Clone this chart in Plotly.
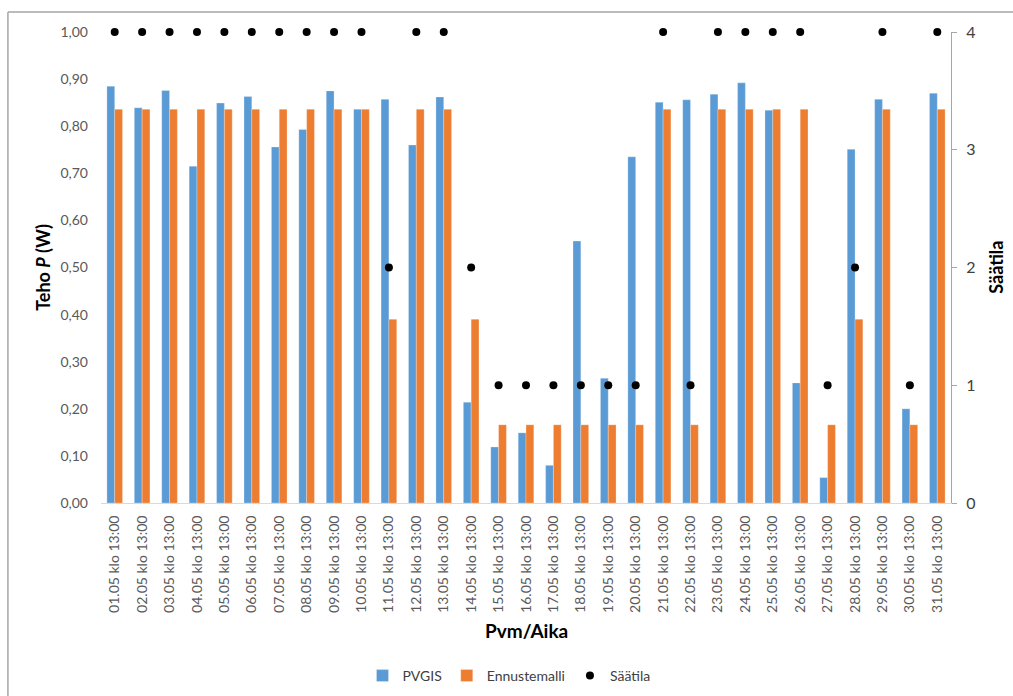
import plotly.graph_objects as go

# Päivämäärät (toukokuu, klo 13:00)
paivat = [f"{d:02d}.05 klo 13:00" for d in range(1, 32)]

# PVGIS-teho (W)
pvgis = [0.885, 0.839, 0.876, 0.715, 0.849, 0.863, 0.756, 0.793, 0.875, 0.836,
         0.857, 0.760, 0.862, 0.214, 0.119, 0.149, 0.080, 0.556, 0.265, 0.735,
         0.851, 0.856, 0.868, 0.892, 0.834, 0.255, 0.054, 0.751, 0.857, 0.200,
         0.870]

# Ennustemallin teho (W)
ennuste = [0.836, 0.836, 0.836, 0.836, 0.836, 0.836, 0.836, 0.836, 0.836, 0.836,
           0.390, 0.836, 0.836, 0.390, 0.166, 0.166, 0.166, 0.166, 0.166, 0.166,
           0.836, 0.166, 0.836, 0.836, 0.836, 0.836, 0.166, 0.390, 0.836, 0.166,
           0.836]

# Säätila (1-4)
saatila = [4, 4, 4, 4, 4, 4, 4, 4, 4, 4,
           2, 4, 4, 2, 1, 1, 1, 1, 1, 1,
           4, 1, 4, 4, 4, 4, 1, 2, 4, 1,
           4]

FONT = "Lato, 'Open Sans', sans-serif"
BLUE = "#5B9BD5"
ORANGE = "#ED7D31"

fig = go.Figure()
fig.add_trace(go.Bar(x=paivat, y=pvgis, name="PVGIS", marker_color=BLUE,
                     marker_line=dict(color="rgba(255,255,255,0.5)", width=0.5)))
fig.add_trace(go.Bar(x=paivat, y=ennuste, name="Ennustemalli", marker_color=ORANGE,
                     marker_line=dict(color="rgba(255,255,255,0.5)", width=0.5)))
fig.add_trace(go.Scatter(x=paivat, y=saatila, name="Säätila", mode="markers",
                         yaxis="y2", cliponaxis=False,
                         marker=dict(color="black", size=8)))

fig.update_layout(
    width=1013, height=696,
    margin=dict(l=101, r=62, t=32, b=193),
    paper_bgcolor="white", plot_bgcolor="white",
    font=dict(family=FONT, size=13, color="#595959"),
    separators=", ",
    barmode="group", bargap=0.43, bargroupgap=0,
    showlegend=True,
    legend=dict(orientation="h", x=0.48, xanchor="center",
                yref="container", y=1 - 676 / 696, yanchor="middle",
                font=dict(size=14, color="#404040"), itemwidth=30, traceorder="normal"),
    xaxis=dict(type="category", range=[-0.5, len(paivat) - 0.5], tickangle=-90,
               showline=True, linecolor="#d9d9d9",
               linewidth=1, ticks="", showgrid=False, zeroline=False, automargin=False,
               ticklabelstandoff=6,
               tickfont=dict(size=14, color="#595959")),
    yaxis=dict(range=[0, 1], dtick=0.1, tickformat=".2f", showgrid=False,
               zeroline=False, showline=False, ticks="", ticklabelstandoff=12,
               automargin=False,
               tickfont=dict(size=14, color="#595959")),
    yaxis2=dict(range=[0, 4], dtick=1, overlaying="y", side="right", showgrid=False,
                zeroline=False, showline=True, linecolor="#a6a6a6", linewidth=1,
                ticks="outside", ticklen=5, tickcolor="#a6a6a6", automargin=False,
                ticklabelstandoff=6, tickfont=dict(size=16, color="#404040")),
)

# Akselien otsikot
fig.add_annotation(text="<b>Teho <i>P</i> (W)</b>", xref="paper", yref="paper",
                   x=-0.069, y=0.5, textangle=-90, showarrow=False,
                   font=dict(size=18, color="black"), xanchor="center", yanchor="middle")
fig.add_annotation(text="<b>Säätila</b>", xref="paper", yref="paper",
                   x=1.052, y=0.5, textangle=-90, showarrow=False,
                   font=dict(size=18, color="black"), xanchor="center", yanchor="middle")
fig.add_annotation(text="<b>Pvm/Aika</b>", xref="paper", yref="paper",
                   x=0.5, y=-0.27, showarrow=False,
                   font=dict(size=19, color="black"), xanchor="center", yanchor="middle")

# Kaavioalueen reunaviivat (vasen ja ylä)
fig.add_shape(type="line", xref="paper", yref="paper", x0=-0.1095, x1=-0.1095,
              y0=1.0425, y1=-0.42, line=dict(color="#a6a6a6", width=1.5))
fig.add_shape(type="line", xref="paper", yref="paper", x0=-0.1095, x1=1.08,
              y0=1.0425, y1=1.0425, line=dict(color="#a6a6a6", width=1.5))

fig.write_html("out.html")
